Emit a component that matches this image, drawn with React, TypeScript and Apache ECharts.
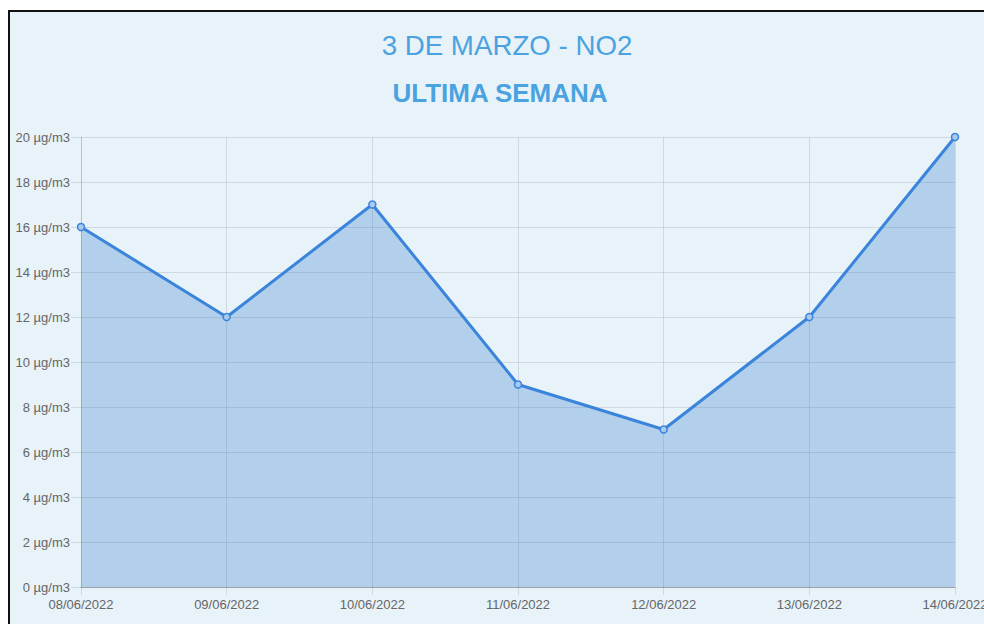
import React, { useEffect, useRef } from "react";
import * as echarts from "echarts";

const categories = ["08/06/2022", "09/06/2022", "10/06/2022", "11/06/2022", "12/06/2022", "13/06/2022", "14/06/2022"];
const no2Values = [16, 12, 17, 9, 7, 12, 20];
const titleText = "3 DE MARZO - NO2";
const subtitleText = "ULTIMA SEMANA";
const unit = "µg/m3";

export default function App() {
  const ref = useRef<HTMLDivElement>(null);
  useEffect(() => {
    if (!ref.current) return;
    const chart = echarts.init(ref.current, undefined, { renderer: "svg" });
    const grid = "rgba(0,0,0,0.1)";
    chart.setOption({
      animation: false,
      textStyle: { fontFamily: "Liberation Sans, Arial, sans-serif" },
      graphic: [
        {
          type: "text",
          x: 507,
          y: 45,
          style: {
            text: titleText,
            fill: "#4aa3e0",
            font: "27.7px 'Liberation Sans', Arial, sans-serif",
            textAlign: "center",
            textVerticalAlign: "middle",
          },
        },
        {
          type: "text",
          x: 500,
          y: 93,
          style: {
            text: subtitleText,
            fill: "#4aa3e0",
            font: "bold 26px 'Liberation Sans', Arial, sans-serif",
            textAlign: "center",
            textVerticalAlign: "middle",
          },
        },
      ],
      grid: { left: 81, top: 137, width: 874, height: 450, containLabel: false, outerBoundsMode: "none" },
      xAxis: {
        type: "category",
        data: categories,
        boundaryGap: false,
        axisLine: { show: true, lineStyle: { color: "rgba(0,0,0,0.25)", width: 1 } },
        axisTick: { show: true, length: 8, lineStyle: { color: grid } },
        splitLine: { show: true, lineStyle: { color: grid } },
        axisLabel: { color: "#666", fontSize: 13, margin: 11, interval: 0 },
      },
      yAxis: {
        type: "value",
        min: 0,
        max: 20,
        interval: 2,
        axisLine: { show: true, lineStyle: { color: grid } },
        axisTick: { show: true, length: 10, lineStyle: { color: grid } },
        splitLine: { show: true, lineStyle: { color: grid } },
        axisLabel: { color: "#666", fontSize: 13, margin: 11, formatter: (v: number) => `${v} ${unit}` },
      },
      series: [
        {
          type: "line",
          data: no2Values,
          symbol: "circle",
          symbolSize: 7,
          showAllSymbol: true,
          lineStyle: { color: "#3a84db", width: 3 },
          itemStyle: { color: "#a9c9ee", borderColor: "#3a84db", borderWidth: 1.5 },
          areaStyle: { color: "rgba(52,129,206,0.3)", opacity: 1 },
          z: 3,
        },
      ],
    });
    return () => chart.dispose();
  }, []);
  return (
    <div style={{ position: "fixed", left: 0, top: 0, width: 984, height: 624, overflow: "hidden", background: "#fff" }}>
      <div
        style={{
          position: "absolute",
          left: 8,
          top: 10,
          width: 1000,
          height: 640,
          borderLeft: "2px solid #111",
          borderTop: "2px solid #111",
          background: "#e8f2f9",
          boxSizing: "border-box",
        }}
      />
      <div ref={ref} style={{ position: "absolute", left: 0, top: 0, width: 984, height: 624 }} />
    </div>
  );
}
